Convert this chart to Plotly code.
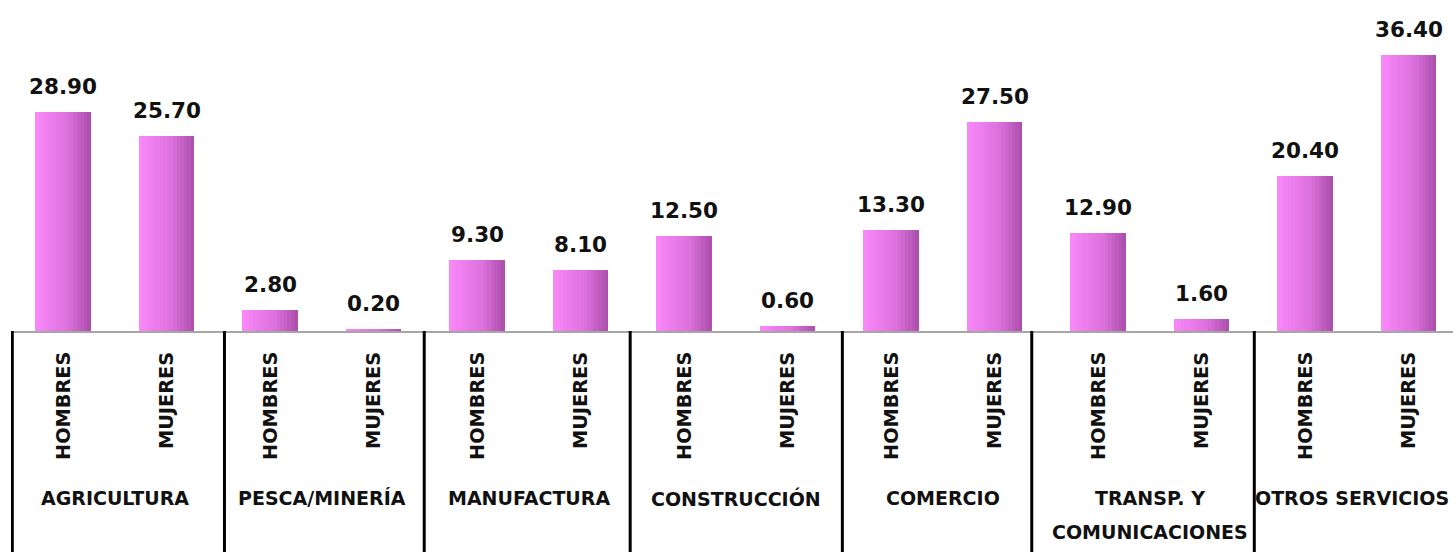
import plotly.graph_objects as go

# ---- data ----
sectors = ["AGRICULTURA", "PESCA/MINERÍA", "MANUFACTURA", "CONSTRUCCIÓN",
           "COMERCIO", "TRANSP. Y<br>COMUNICACIONES", "OTROS SERVICIOS"]
sexes = ["HOMBRES", "MUJERES"]
hombres = [28.90, 2.80, 9.30, 12.50, 13.30, 12.90, 20.40]
mujeres = [25.70, 0.20, 8.10, 0.60, 27.50, 1.60, 36.40]

# interleave into 14 bars
values = []
bar_labels = []
for h, m in zip(hombres, mujeres):
    values += [h, m]
    bar_labels += sexes
xs = list(range(len(values)))

# ---- style ----
W, H = 1453, 552
FONT = "DejaVu Sans"
bar_w = 0.54
n_strips = 16
c_left = (250, 136, 250)
c_mid = (220, 112, 220)
c_right = (170, 78, 170)


def lerp(a, b, t):
    return tuple(int(round(a[i] + (b[i] - a[i]) * t)) for i in range(3))


fig = go.Figure()
for k in range(n_strips):
    t = (k + 0.5) / n_strips
    if t < 0.6:
        col = lerp(c_left, c_mid, t / 0.6)
    else:
        col = lerp(c_mid, c_right, (t - 0.6) / 0.4)
    sw = bar_w / n_strips
    fig.add_trace(go.Bar(
        x=xs, y=values,
        width=sw * (1.08 if k < n_strips - 1 else 1.0),
        offset=-bar_w / 2 + k * sw,
        marker=dict(color="rgb(%d,%d,%d)" % col, line=dict(width=0)),
        hoverinfo="skip", showlegend=False,
    ))

annotations = []
# value labels
for x, v in zip(xs, values):
    annotations.append(dict(
        x=x, y=v, xref="x", yref="y", text="%.2f" % v, showarrow=False,
        yanchor="bottom", xanchor="center", yshift=11,
        font=dict(family=FONT, size=21.5, color="#111111", weight="bold"),
    ))

plot_h = 331  # pixel height of plot area
def py(pix):
    return (plot_h - pix) / plot_h

# rotated sex labels
for x, lab in zip(xs, bar_labels):
    annotations.append(dict(
        x=x, y=py(350), xref="x", yref="paper", text=lab, showarrow=False,
        textangle=-90, yanchor="top", xanchor="center",
        font=dict(family=FONT, size=19.3, color="#111111", weight="bold"),
    ))

# sector labels
for i, s in enumerate(sectors):
    lines = s.split("<br>")
    for j, line in enumerate(lines):
        annotations.append(dict(
            x=2 * i + 0.5, y=py(498 + 34 * j), xref="x", yref="paper",
            text=line, showarrow=False, yanchor="middle", xanchor="center",
            xshift=-5 if i == len(sectors) - 1 else 0,
            font=dict(family=FONT, size=19, color="#111111", weight="bold"),
        ))

# separators between sector groups
sep_x = [-0.49, 1.56, 3.49, 5.48, 7.53, 9.36, 11.51]
shapes = [dict(type="line", xref="x", yref="paper", x0=sx, x1=sx,
               y0=0, y1=py(560), line=dict(color="#000000", width=3),
               layer="above") for sx in sep_x]

px_per_unit = 103.5
x0 = -52 / px_per_unit
x1 = x0 + (W - 11) / px_per_unit
y_max = plot_h / 7.585

fig.update_layout(
    width=W, height=H,
    margin=dict(l=11, r=0, t=0, b=H - plot_h),
    paper_bgcolor="white", plot_bgcolor="white",
    barmode="overlay", bargap=0,
    annotations=annotations, shapes=shapes,
    xaxis=dict(range=[x0, x1], showline=True, linecolor="#A6A6A6",
               linewidth=2, showticklabels=False, ticks="", showgrid=False,
               zeroline=False, fixedrange=True),
    yaxis=dict(range=[0, y_max], visible=False, showgrid=False,
               zeroline=False, fixedrange=True),
)

fig.write_html("out.html", config={"displayModeBar": False})
